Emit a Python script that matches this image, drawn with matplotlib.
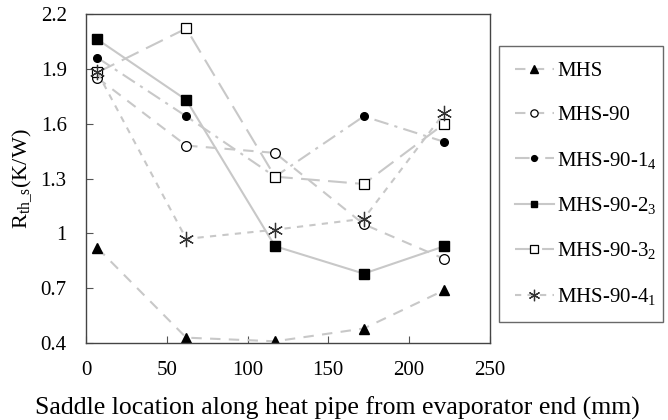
import matplotlib
matplotlib.use('Agg')
import matplotlib.pyplot as plt

plt.rcParams['font.family'] = 'Liberation Serif'
plt.rcParams['mathtext.fontset'] = 'custom'
plt.rcParams['mathtext.rm'] = 'Liberation Serif'
plt.rcParams['mathtext.it'] = 'Liberation Serif:italic'

location = [7, 62, 117, 172, 222]

mhs = [0.92, 0.43, 0.41, 0.48, 0.69]
mhs_90 = [1.85, 1.48, 1.44, 1.05, 0.86]
mhs_90_1 = [1.96, 1.64, 1.31, 1.64, 1.50]
mhs_90_2 = [2.06, 1.73, 0.93, 0.78, 0.93]
mhs_90_3 = [1.88, 2.12, 1.31, 1.27, 1.60]
mhs_90_4 = [1.88, 0.97, 1.02, 1.08, 1.66]

labels = ['MHS', 'MHS-90', r'MHS-90-1$_{\mathregular{4}}$', r'MHS-90-2$_{\mathregular{3}}$',
          r'MHS-90-3$_{\mathregular{2}}$', r'MHS-90-4$_{\mathregular{1}}$']

fig = plt.figure(figsize=(6.68, 4.2), dpi=100)
ax = fig.add_axes([0.129, 0.183, 0.604, 0.784])

lc = '#c8c8c8'
ax.plot(location, mhs, color=lc, ls=(0, (5, 4)), lw=1.5, marker='^', ms=7,
        mfc='black', mec='black', label=labels[0])
ax.plot(location, mhs_90, color=lc, ls=(0, (5, 4)), lw=1.5, marker='o', ms=7,
        mfc='white', mec='black', mew=0.9, label=labels[1])
ax.plot(location, mhs_90_1, color=lc, ls=(0, (7, 3, 1.5, 3)), lw=1.5, marker='o', ms=5.5,
        mfc='black', mec='black', label=labels[2])
ax.plot(location, mhs_90_2, color=lc, ls='-', lw=1.5, marker='s', ms=6.5,
        mfc='black', mec='black', label=labels[3])
ax.plot(location, mhs_90_3, color=lc, ls=(0, (9, 4)), lw=1.5, marker='s', ms=7,
        mfc='white', mec='black', mew=0.9, label=labels[4])
ax.plot(location, mhs_90_4, color=lc, ls=(0, (3, 3)), lw=1.5, marker=(6, 2, 0), ms=11,
        mec='#333333', mew=0.9, label=labels[5])

ax.set_xlim(0, 250)
ax.set_ylim(0.4, 2.2)
ax.set_xticks([0, 50, 100, 150, 200, 250])
ax.set_yticks([0.4, 0.7, 1.0, 1.3, 1.6, 1.9, 2.2])
ax.set_yticklabels(['0.4', '0.7', '1', '1.3', '1.6', '1.9', '2.2'])
ax.tick_params(direction='in', labelsize=15, length=5, color='#555555')
ax.tick_params(axis='y', pad=14)
ax.tick_params(axis='x', pad=13)
for s in ax.spines.values():
    s.set_color('#444444')
    s.set_linewidth(1.0)

# x label is centred on the figure, not on the axes
fig.text(0.505, 0.028, 'Saddle location along heat pipe from evaporator end (mm)',
         fontsize=18.5, ha='center', va='center')
ax.set_ylabel(r'R$_{\mathregular{th\_s}}$(K/W)', fontsize=16)
ax.yaxis.set_label_coords(-0.13, 0.5)

leg = fig.legend(loc='upper left', bbox_to_anchor=(0.747, 0.243, 0.2455, 0.647), mode='expand',
                 borderaxespad=0, fontsize=15, frameon=True, fancybox=False, edgecolor='#444444',
                 labelspacing=1.17, handlelength=1.9, handletextpad=0.15, borderpad=0.75,
                 markerscale=0.75)
leg.get_frame().set_linewidth(1.0)

fig.savefig('out.png', dpi=100)
